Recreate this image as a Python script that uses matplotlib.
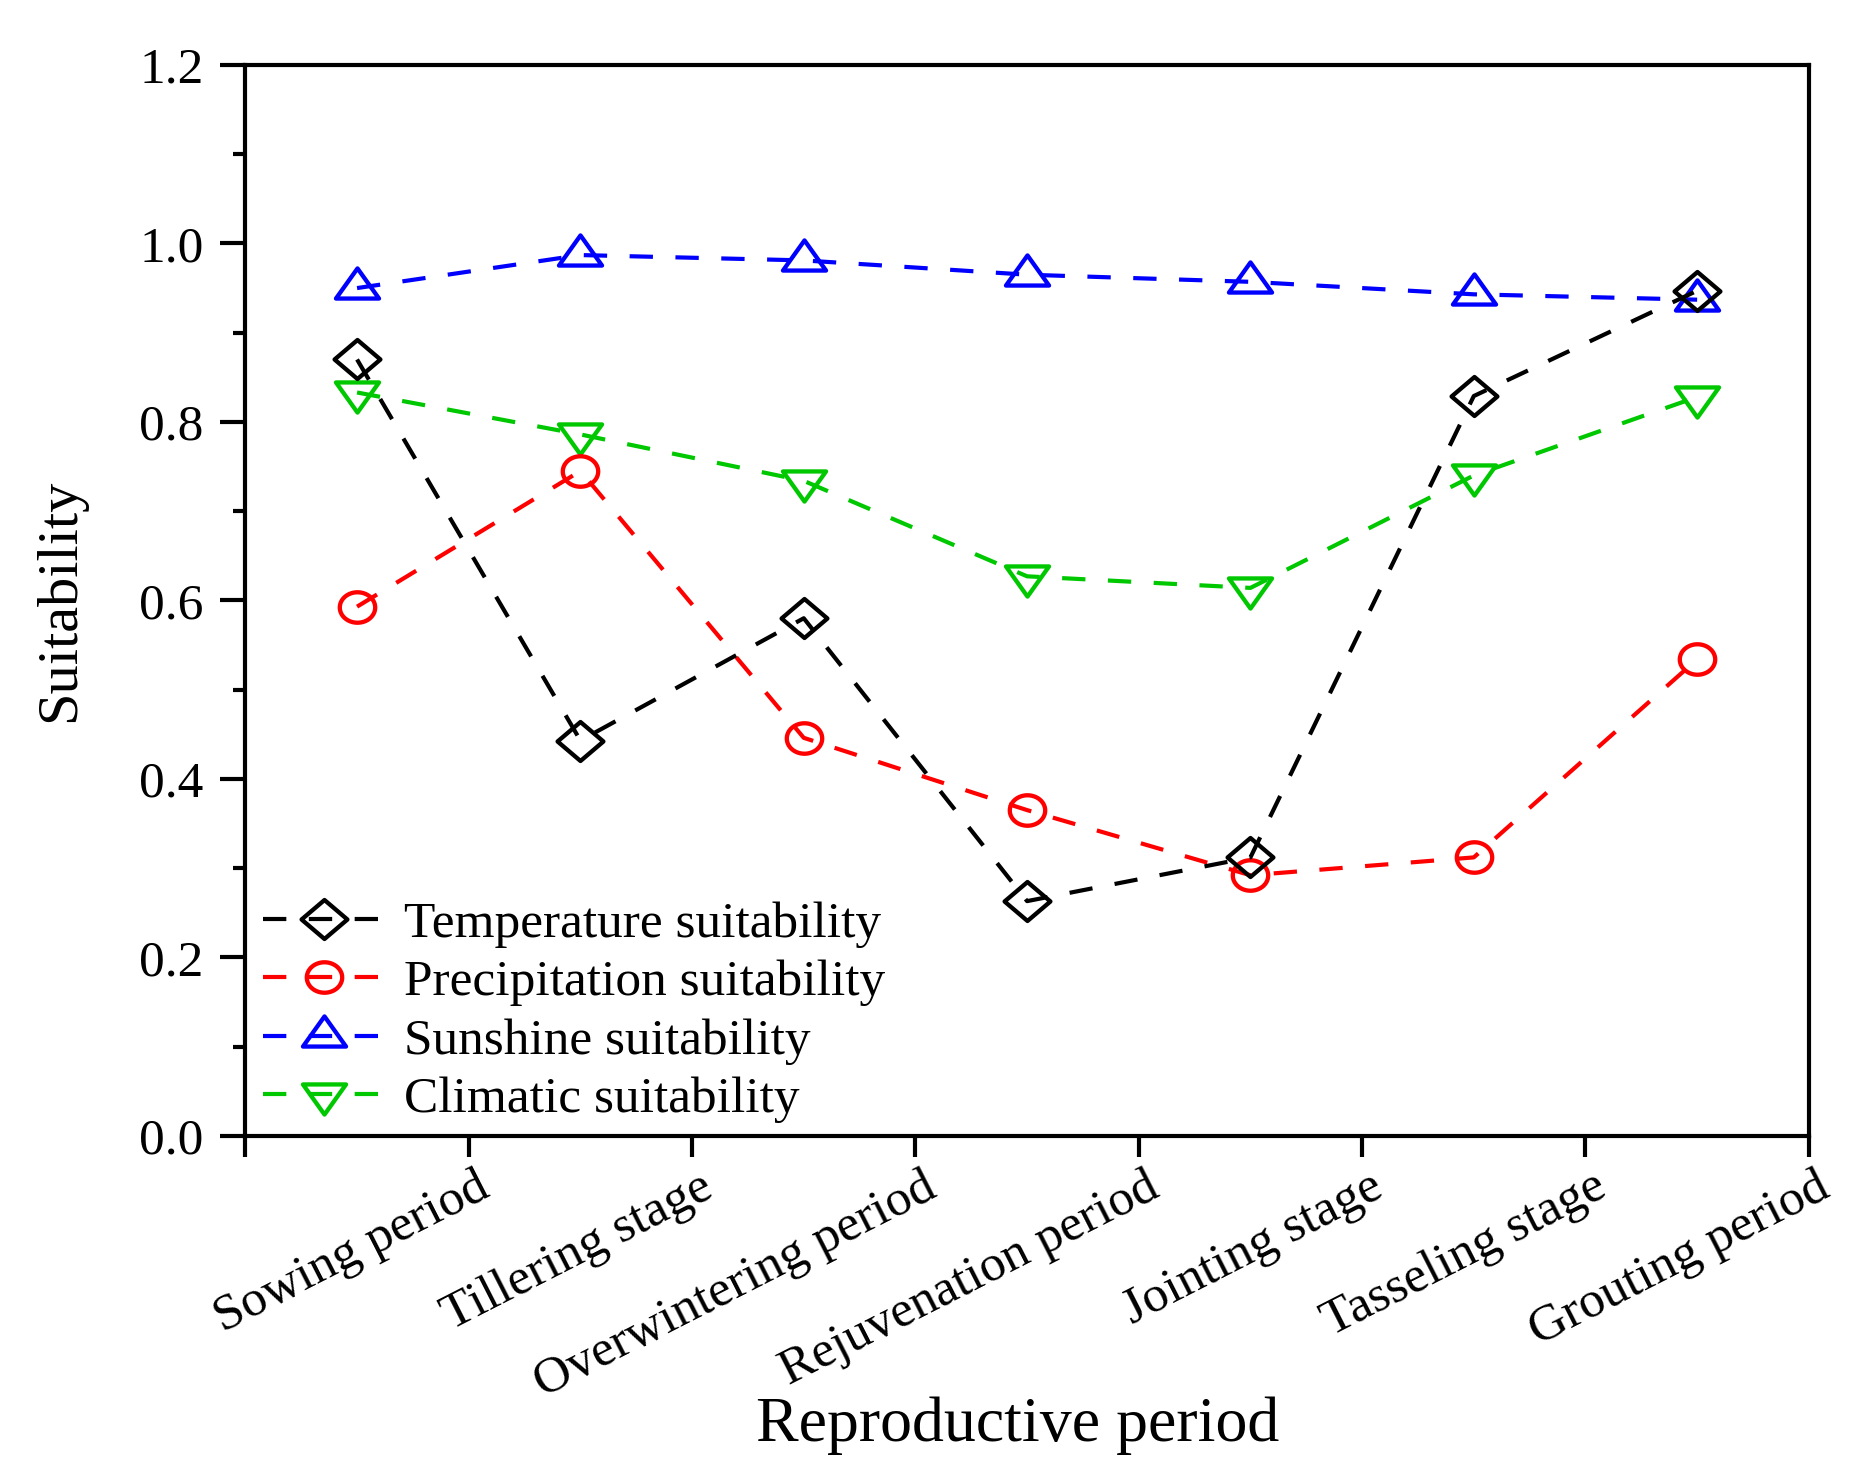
import numpy as np
import matplotlib
matplotlib.use("Agg")
import matplotlib.pyplot as plt
from matplotlib.path import Path
from matplotlib.transforms import ScaledTranslation

plt.rcParams['font.family'] = ['Liberation Serif', 'DejaVu Serif']

stages = ['Sowing period', 'Tillering stage', 'Overwintering period',
          'Rejuvenation period', 'Jointing stage', 'Tasseling stage',
          'Grouting period']
temperature = [0.870, 0.443, 0.580, 0.263, 0.312, 0.829, 0.947]
precipitation = [0.593, 0.745, 0.446, 0.365, 0.292, 0.312, 0.534]
sunshine = [0.950, 0.987, 0.981, 0.965, 0.957, 0.943, 0.937]
climatic = [0.833, 0.786, 0.734, 0.627, 0.614, 0.740, 0.828]

# slightly squashed markers, like the source picture
t = np.linspace(0, 2 * np.pi, 60)
ellipse = Path(np.column_stack([np.cos(t), 0.86 * np.sin(t)]), closed=True)
diamond = Path([(1, 0), (0, 0.85), (-1, 0), (0, -0.85), (1, 0)], closed=True)
tri_up = Path([(-1, -0.467), (1, -0.467), (0, 0.933), (-1, -0.467)], closed=True)
tri_down = Path([(-1, 0.467), (1, 0.467), (0, -0.933), (-1, 0.467)], closed=True)

series = [
    (temperature, 'Temperature suitability', 'black', diamond, 33, 5),
    (precipitation, 'Precipitation suitability', '#ff0000', ellipse, 25.5, 4),
    (sunshine, 'Sunshine suitability', '#0000ff', tri_up, 31, 3),
    (climatic, 'Climatic suitability', '#00c800', tri_down, 31, 2),
]

fig = plt.figure(figsize=(18.59, 14.77), dpi=100)
ax = fig.add_axes([0.132, 0.231, 0.841, 0.725])

x = np.arange(len(stages)) + 0.5
for vals, name, col, mk, ms, z in series:
    ax.plot(x, vals, color=col, lw=3, dashes=(5.6, 5.4), marker=mk,
            markersize=ms, markerfacecolor='none', markeredgecolor=col,
            markeredgewidth=3.1, label=name, zorder=z)

ax.set_xlim(0, len(stages))
ax.set_ylim(0, 1.2)
ax.set_xticks(np.arange(len(stages) + 1))
ax.set_xticklabels([''] + stages, rotation=27, ha='right', va='top')
ax.set_yticks(np.arange(0, 1.21, 0.2))
ax.set_yticklabels(['%.1f' % v for v in np.arange(0, 1.21, 0.2)])
ax.set_yticks(np.arange(0.1, 1.2, 0.2), minor=True)

ax.tick_params(axis='both', which='major', direction='out', width=3,
               labelsize=37)
ax.tick_params(axis='y', which='major', length=18, pad=12)
ax.tick_params(axis='y', which='minor', direction='out', length=9, width=3)
ax.tick_params(axis='x', which='major', length=15, pad=5)
for sp in ax.spines.values():
    sp.set_linewidth(3)

off = ScaledTranslation(0.28, 0, fig.dpi_scale_trans)
for lab in ax.get_xticklabels():
    lab.set_transform(lab.get_transform() + off)

ax.set_ylabel('Suitability', fontsize=42)
ax.yaxis.set_label_coords(-0.102, 0.5)
ax.set_xlabel('Reproductive period', fontsize=46)
ax.xaxis.set_label_coords(0.494, -0.243)

ax.legend(loc='lower left', bbox_to_anchor=(0.011, 0.012), frameon=False,
          fontsize=37, handlelength=2.4, handletextpad=0.35,
          labelspacing=0.22, borderpad=0, borderaxespad=0)

fig.savefig('out.png', dpi=100)
